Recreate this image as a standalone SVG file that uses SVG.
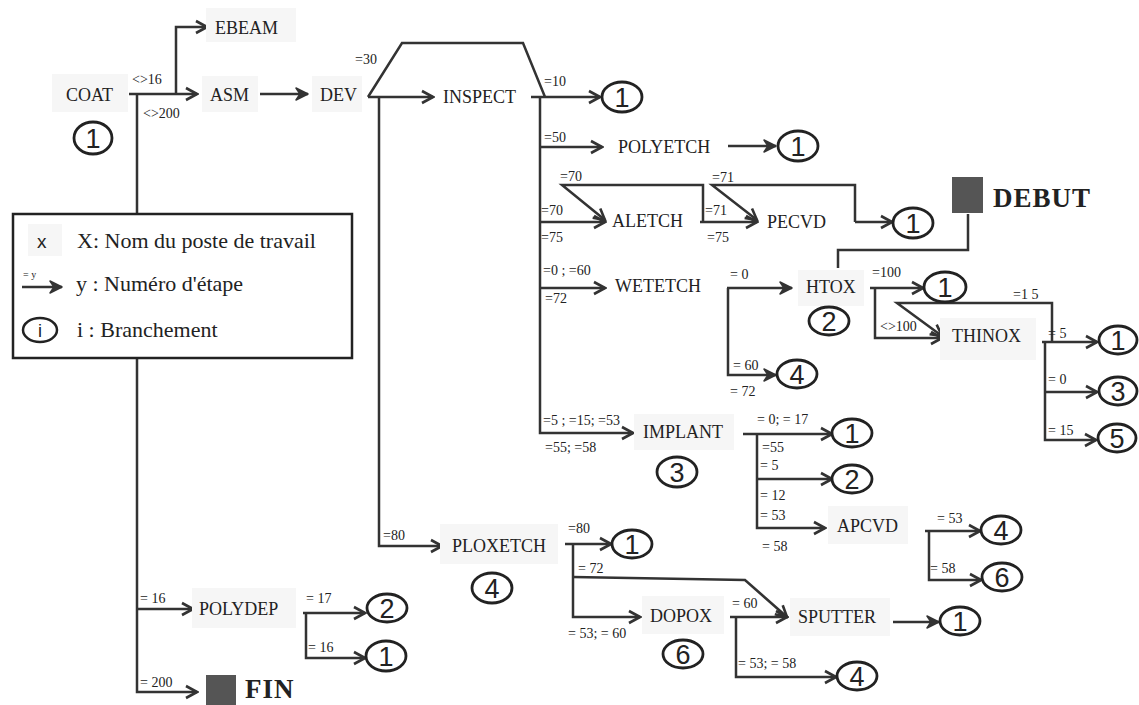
<svg xmlns="http://www.w3.org/2000/svg" width="1139" height="705" viewBox="0 0 1139 705">
<defs>
<style>
.bg{fill:#f6f6f6}
.nd{font-family:"Liberation Serif","Times New Roman",serif;font-size:18px;fill:#222}
.lb{font-family:"Liberation Serif","Times New Roman",serif;font-size:14px;fill:#222}
.lg{font-family:"Liberation Serif","Times New Roman",serif;font-size:22px;fill:#222}
.big{font-family:"Liberation Serif","Times New Roman",serif;font-size:27px;font-weight:bold;fill:#222;letter-spacing:1px}
.br ellipse{fill:#fff;stroke:#222;stroke-width:2.8}
.br text{font-family:"Liberation Sans",Arial,sans-serif;font-size:27px;fill:#222;text-anchor:middle}
.cn path{fill:none;stroke:#333;stroke-width:2.5}
.a{marker-end:url(#open)}
.s{marker-end:url(#solid)}
.sq{fill:#555}
</style>
<marker id="open" viewBox="-13 -8 15 16" refX="0" refY="0" markerWidth="15" markerHeight="16" markerUnits="userSpaceOnUse" orient="auto">
<path d="M-11,-6 L0,0 L-11,6" fill="none" stroke="#333" stroke-width="2.6"/>
</marker>
<marker id="solid" viewBox="-13 -8 15 16" refX="0" refY="0" markerWidth="15" markerHeight="16" markerUnits="userSpaceOnUse" orient="auto">
<path d="M-12,-6 L0,0 L-12,6 L-8,0 Z" fill="#333" stroke="#333" stroke-width="1.5" stroke-linejoin="round"/>
</marker>
</defs>
<rect x="0" y="0" width="1139" height="705" fill="#fff"/>

<g id="connectors" class="cn">
<path class="a" d="M129,94 H197"/>
<path class="a" d="M176,94 V27 H207"/>
<path class="a" d="M137,94 V692 H197"/>
<path class="a" d="M137,609 H193"/>
<path class="s" d="M260,94 H308"/>
<path d="M368,97 L402,43 H523 L545,97"/>
<path class="a" d="M368,97 H433"/>
<path class="a" d="M379,97 V546 H442"/>
<path class="a" d="M531,97 H600"/>
<path class="a" d="M540,97 V433 H633"/>
<path class="a" d="M540,147 H602"/>
<path class="s" d="M728,146 H776"/>
<path class="a" d="M540,222 H605"/>
<path class="a" d="M703,222 V185 H562 L605,220"/>
<path class="a" d="M700,222 H757"/>
<path class="a" d="M855,222 V185 H712 L757,220"/>
<path class="a" d="M855,222 H892"/>
<path class="a" d="M540,288 H605"/>
<path d="M968,214 V250 H838 V268"/>
<path class="s" d="M727,288 H792"/>
<path class="s" d="M728,288 V375 H776"/>
<path class="a" d="M870,288 H923"/>
<path class="a" d="M875,288 V338 H942"/>
<path class="a" d="M1052,342 V303 H897 L942,336"/>
<path class="a" d="M1042,342 H1097"/>
<path class="a" d="M1045,342 V440 H1096"/>
<path class="a" d="M1045,392 H1097"/>
<path class="a" d="M743,434 H832"/>
<path class="a" d="M757,434 V528 H825"/>
<path class="a" d="M757,479 H832"/>
<path class="a" d="M925,531 H980"/>
<path class="a" d="M929,531 V580 H981"/>
<path class="a" d="M565,544 H611"/>
<path class="a" d="M573,544 V617 H640"/>
<path class="a" d="M573,577 L745,580 L787,617"/>
<path class="a" d="M730,617 H787"/>
<path class="a" d="M736,617 V677 H836"/>
<path class="s" d="M893,622 H939"/>
<path class="a" d="M303,613 H365"/>
<path class="a" d="M306,613 V658 H365"/>
</g>

<g id="labels">
<text class="lb" x="132" y="84">&lt;&gt;16</text>
<text class="lb" x="143" y="118">&lt;&gt;200</text>
<text class="lb" x="355" y="64">=30</text>
<text class="lb" x="544" y="86">=10</text>
<text class="lb" x="544" y="142">=50</text>
<text class="lb" x="560" y="181">=70</text>
<text class="lb" x="541" y="215">=70</text>
<text class="lb" x="541" y="242">=75</text>
<text class="lb" x="712" y="182">=71</text>
<text class="lb" x="705" y="215">=71</text>
<text class="lb" x="707" y="242">=75</text>
<text class="lb" x="543" y="275">=0 ; =60</text>
<text class="lb" x="545" y="303">=72</text>
<text class="lb" x="730" y="279">= 0</text>
<text class="lb" x="733" y="370">= 60</text>
<text class="lb" x="730" y="396">= 72</text>
<text class="lb" x="872" y="277">=100</text>
<text class="lb" x="880" y="331">&lt;&gt;100</text>
<text class="lb" x="1013" y="299">=1 5</text>
<text class="lb" x="1048" y="338">= 5</text>
<text class="lb" x="1048" y="384">= 0</text>
<text class="lb" x="1048" y="435">= 15</text>
<text class="lb" x="543" y="425">=5 ; =15; =53</text>
<text class="lb" x="545" y="452">=55; =58</text>
<text class="lb" x="757" y="424">= 0; = 17</text>
<text class="lb" x="762" y="452">=55</text>
<text class="lb" x="760" y="470">= 5</text>
<text class="lb" x="760" y="500">= 12</text>
<text class="lb" x="760" y="520">= 53</text>
<text class="lb" x="762" y="551">= 58</text>
<text class="lb" x="937" y="523">= 53</text>
<text class="lb" x="930" y="573">= 58</text>
<text class="lb" x="383" y="540">=80</text>
<text class="lb" x="568" y="533">=80</text>
<text class="lb" x="578" y="573">= 72</text>
<text class="lb" x="568" y="638">= 53; = 60</text>
<text class="lb" x="732" y="608">= 60</text>
<text class="lb" x="738" y="668">= 53; = 58</text>
<text class="lb" x="140" y="603">= 16</text>
<text class="lb" x="306" y="603">= 17</text>
<text class="lb" x="308" y="652">= 16</text>
<text class="lb" x="140" y="687">= 200</text>
</g>

<g id="n-ebeam"><rect class="bg" x="206" y="8" width="90" height="34"/><text class="nd" x="215" y="34">EBEAM</text></g>
<g id="n-coat"><rect class="bg" x="52" y="74" width="76" height="38"/><text class="nd" x="66" y="101">COAT</text></g>
<g id="n-asm"><rect class="bg" x="202" y="76" width="56" height="36"/><text class="nd" x="210" y="101">ASM</text></g>
<g id="n-dev"><rect class="bg" x="312" y="76" width="50" height="36"/><text class="nd" x="320" y="101">DEV</text></g>
<g id="n-inspect"><text class="nd" x="443" y="103">INSPECT</text></g>
<g id="n-polyetch"><text class="nd" x="618" y="153">POLYETCH</text></g>
<g id="n-aletch"><text class="nd" x="612" y="227">ALETCH</text></g>
<g id="n-pecvd"><text class="nd" x="767" y="228">PECVD</text></g>
<g id="n-wetetch"><text class="nd" x="615" y="292">WETETCH</text></g>
<g id="n-htox"><rect class="bg" x="798" y="270" width="66" height="36"/><text class="nd" x="806" y="293">HTOX</text></g>
<g id="n-thinox"><rect class="bg" x="940" y="318" width="96" height="42"/><text class="nd" x="952" y="342">THINOX</text></g>
<g id="n-implant"><rect class="bg" x="634" y="414" width="100" height="36"/><text class="nd" x="643" y="438">IMPLANT</text></g>
<g id="n-apcvd"><rect class="bg" x="828" y="506" width="80" height="38"/><text class="nd" x="837" y="532">APCVD</text></g>
<g id="n-ploxetch"><rect class="bg" x="440" y="524" width="118" height="40"/><text class="nd" x="452" y="552">PLOXETCH</text></g>
<g id="n-dopox"><rect class="bg" x="642" y="596" width="82" height="38"/><text class="nd" x="650" y="622">DOPOX</text></g>
<g id="n-sputter"><rect class="bg" x="790" y="598" width="100" height="38"/><text class="nd" x="798" y="623">SPUTTER</text></g>
<g id="n-polydep"><rect class="bg" x="192" y="588" width="104" height="40"/><text class="nd" x="199" y="615">POLYDEP</text></g>
<g id="n-debut"><rect class="sq" x="952" y="177" width="31" height="36"/><text class="big" x="993" y="207">DEBUT</text></g>
<g id="n-fin"><rect class="sq" x="206" y="675" width="30" height="32"/><text class="big" x="245" y="698">FIN</text></g>

<g id="branches" class="br">
<g id="b-coat"><ellipse cx="93" cy="138" rx="19" ry="16"/><text x="93" y="148">1</text></g>
<g id="b-inspect"><ellipse cx="622" cy="97" rx="20" ry="15"/><text x="622" y="107">1</text></g>
<g id="b-polyetch"><ellipse cx="798" cy="146" rx="20" ry="15"/><text x="798" y="156">1</text></g>
<g id="b-pecvd"><ellipse cx="913" cy="223" rx="20" ry="15"/><text x="913" y="233">1</text></g>
<g id="b-htox"><ellipse cx="829" cy="321" rx="20" ry="14"/><text x="829" y="331">2</text></g>
<g id="b-htox1"><ellipse cx="945" cy="287" rx="21" ry="15"/><text x="945" y="297">1</text></g>
<g id="b-wet4"><ellipse cx="797" cy="374" rx="20" ry="14"/><text x="797" y="384">4</text></g>
<g id="b-thin1"><ellipse cx="1118" cy="340" rx="19" ry="14"/><text x="1118" y="350">1</text></g>
<g id="b-thin3"><ellipse cx="1118" cy="391" rx="19" ry="14"/><text x="1118" y="401">3</text></g>
<g id="b-thin5"><ellipse cx="1117" cy="438" rx="19" ry="14"/><text x="1117" y="448">5</text></g>
<g id="b-implant"><ellipse cx="677" cy="472" rx="20" ry="15"/><text x="677" y="482">3</text></g>
<g id="b-imp1"><ellipse cx="852" cy="433" rx="20" ry="14"/><text x="852" y="443">1</text></g>
<g id="b-imp2"><ellipse cx="852" cy="479" rx="20" ry="14"/><text x="852" y="489">2</text></g>
<g id="b-apc4"><ellipse cx="1001" cy="530" rx="20" ry="14"/><text x="1001" y="540">4</text></g>
<g id="b-apc6"><ellipse cx="1002" cy="577" rx="20" ry="14"/><text x="1002" y="587">6</text></g>
<g id="b-ploxetch"><ellipse cx="492" cy="588" rx="20" ry="15"/><text x="492" y="598">4</text></g>
<g id="b-plox1"><ellipse cx="632" cy="544" rx="20" ry="14"/><text x="632" y="554">1</text></g>
<g id="b-dopox"><ellipse cx="683" cy="654" rx="20" ry="14"/><text x="683" y="664">6</text></g>
<g id="b-dop4"><ellipse cx="857" cy="676" rx="20" ry="14"/><text x="857" y="686">4</text></g>
<g id="b-sput1"><ellipse cx="960" cy="621" rx="20" ry="14"/><text x="960" y="631">1</text></g>
<g id="b-poly2"><ellipse cx="387" cy="608" rx="20" ry="14"/><text x="387" y="618">2</text></g>
<g id="b-poly1"><ellipse cx="386" cy="656" rx="20" ry="15"/><text x="386" y="666">1</text></g>
</g>

<g id="legend">
<rect x="13" y="214" width="339" height="144" fill="#fff" stroke="#222" stroke-width="2.5"/>
<rect class="bg" x="28" y="224" width="34" height="32"/>
<text x="37" y="248" style="font-family:'Liberation Sans',Arial,sans-serif;font-size:19px;fill:#222">x</text>
<text class="lg" x="77" y="248">X: Nom du poste de travail</text>
<text x="23" y="278" style="font-family:'Liberation Serif',serif;font-size:10px;fill:#222">= y</text>
<path d="M22,287 H62" fill="none" stroke="#333" stroke-width="2.5" marker-end="url(#solid)"/>
<text class="lg" x="76" y="291">y : Numéro d'étape</text>
<ellipse cx="40" cy="330" rx="17" ry="12" fill="#fff" stroke="#222" stroke-width="2.5"/>
<text x="40" y="337" text-anchor="middle" style="font-family:'Liberation Sans',Arial,sans-serif;font-size:18px;fill:#222">i</text>
<text class="lg" x="77" y="337">i : Branchement</text>
</g>
</svg>
